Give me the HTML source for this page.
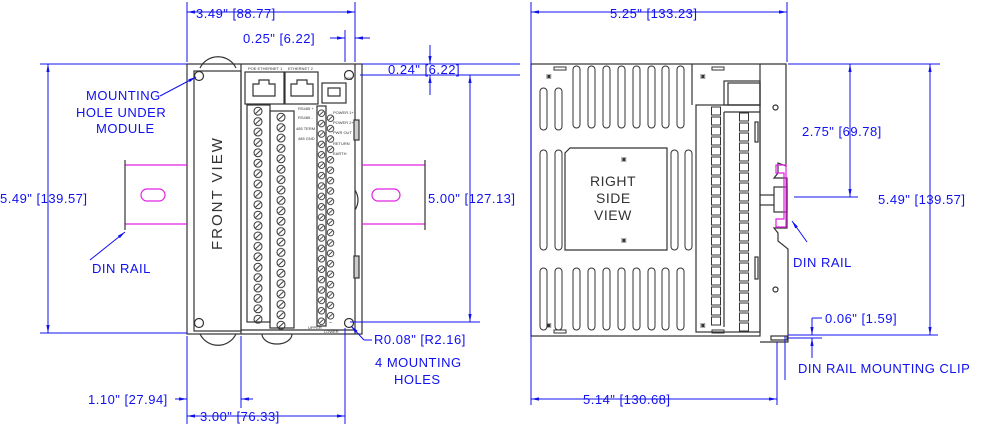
<!DOCTYPE html>
<html><head><style>
html,body{margin:0;padding:0;background:#fff;}
svg{display:block;}
text{font-family:"Liberation Sans",sans-serif;fill:#1010f0;font-size:13px;letter-spacing:0.5px;}
text.s{fill:#333;font-size:4px;letter-spacing:0;}
text.g{fill:#333;font-size:14px;}
text.m{fill:#333;font-size:6px;}
</style></head><body>
<svg width="1000" height="428" viewBox="0 0 1000 428" xmlns="http://www.w3.org/2000/svg">
<defs>
<marker id="a" viewBox="0 0 10 10" refX="10" refY="5" markerWidth="8" markerHeight="8" orient="auto-start-reverse"><path d="M0,3 L10,5 L0,7z" fill="#1010f0"/></marker>
<pattern id="scr1" x="252" y="106" width="12" height="10.4" patternUnits="userSpaceOnUse"><circle cx="6" cy="5.2" r="4" fill="none" stroke="#333" stroke-width="1"/><line x1="3.5" y1="7.5" x2="8.5" y2="3" stroke="#333" stroke-width="1"/></pattern>
<pattern id="scr2" x="275" y="112" width="12" height="10.4" patternUnits="userSpaceOnUse"><circle cx="6" cy="5.2" r="4" fill="none" stroke="#333" stroke-width="1"/><line x1="3.5" y1="7.5" x2="8.5" y2="3" stroke="#333" stroke-width="1"/></pattern>
<pattern id="scs1" x="317" y="108" width="9" height="10.4" patternUnits="userSpaceOnUse"><circle cx="4.5" cy="5.2" r="3.3" fill="none" stroke="#333" stroke-width="0.9"/><line x1="2.5" y1="7" x2="6.5" y2="3.4" stroke="#333" stroke-width="0.9"/></pattern>
<pattern id="scs2" x="326" y="113" width="9" height="10.4" patternUnits="userSpaceOnUse"><circle cx="4.5" cy="5.2" r="3.3" fill="none" stroke="#333" stroke-width="0.9"/><line x1="2.5" y1="7" x2="6.5" y2="3.4" stroke="#333" stroke-width="0.9"/></pattern>
<pattern id="sq1" x="710" y="106" width="12" height="10" patternUnits="userSpaceOnUse"><rect x="1.5" y="1" width="9" height="8" fill="none" stroke="#333"/></pattern>
<pattern id="sq2" x="738" y="112" width="12" height="10" patternUnits="userSpaceOnUse"><rect x="1.5" y="1" width="9" height="8" fill="none" stroke="#333"/></pattern>
</defs>
<g fill="none" stroke="#333" stroke-width="1.2">
<rect x="187" y="64" width="175" height="270"/>
<rect x="194" y="71" width="47" height="260" fill="#fff"/>
<path d="M200,68 A20,20 0 0 1 236,68"/><path d="M200,334 A20,20 0 0 0 236,334"/>
<path d="M262,334 A15,10 0 0 0 292,334"/>
<circle cx="199" cy="76" r="4.5"/><circle cx="199" cy="323" r="4.5"/><circle cx="349" cy="75" r="4.5"/><circle cx="349" cy="323" r="4.5"/>
<line x1="241" y1="64" x2="241" y2="334"/>
<line x1="355" y1="64" x2="355" y2="334"/>
<rect x="245" y="72" width="39" height="32"/><rect x="285" y="72" width="33" height="32"/>
<path d="M253,96 v-12 h6 v-4 h10 v4 h6 v12z"/><path d="M291,96 v-12 h6 v-4 h10 v4 h6 v12z"/>
<rect x="322" y="83" width="24" height="20"/><rect x="328" y="88" width="12" height="8"/>
<rect x="247" y="105" width="23" height="217"/>
<rect x="270" y="111" width="24" height="217"/>
<rect x="317" y="106" width="9" height="220"/>
<rect x="252" y="106" width="12" height="218" fill="url(#scr1)" stroke="none"/>
<rect x="275" y="112" width="12" height="218" fill="url(#scr2)" stroke="none"/>
<rect x="317" y="108" width="9" height="218" fill="url(#scs1)" stroke="none"/>
<rect x="326" y="113" width="9" height="210" fill="url(#scs2)" stroke="none"/>
<rect x="354" y="120" width="5" height="20" fill="#ccc"/><rect x="354" y="256" width="5" height="22" fill="#ccc"/>
<path d="M355,190 q6,10 0,20"/>
<line x1="241" y1="330" x2="355" y2="330"/>
<g stroke="#e020e0">
<line x1="125" y1="165" x2="187" y2="165"/><line x1="125" y1="224" x2="187" y2="224"/>
<line x1="362" y1="165" x2="425" y2="165"/><line x1="362" y1="224" x2="425" y2="224"/>
<rect x="141" y="189" width="24" height="12" rx="6"/><rect x="372" y="189" width="28" height="12" rx="6"/>
</g>
<line x1="125" y1="160" x2="125" y2="230"/><line x1="425" y1="160" x2="425" y2="230"/>
<rect x="531" y="64" width="229" height="272"/>
<line x1="692" y1="64" x2="692" y2="105"/>
<g stroke-width="1">
<rect x="573" y="66" width="7" height="62" rx="3.5"/><rect x="588" y="66" width="7" height="62" rx="3.5"/><rect x="603" y="66" width="7" height="62" rx="3.5"/><rect x="618" y="66" width="7" height="62" rx="3.5"/><rect x="633" y="66" width="7" height="62" rx="3.5"/><rect x="648" y="66" width="7" height="62" rx="3.5"/><rect x="662" y="66" width="7" height="62" rx="3.5"/><rect x="677" y="66" width="7" height="62" rx="3.5"/>
<rect x="540" y="88" width="7" height="42" rx="3.5"/><rect x="555" y="88" width="7" height="42" rx="3.5"/>
<rect x="540" y="150" width="7" height="100" rx="3.5"/><rect x="555" y="150" width="7" height="100" rx="3.5"/><rect x="671" y="150" width="7" height="100" rx="3.5"/><rect x="685" y="150" width="7" height="100" rx="3.5"/>
<rect x="540" y="268" width="7" height="62" rx="3.5"/><rect x="555" y="268" width="7" height="62" rx="3.5"/>
<rect x="573" y="268" width="7" height="62" rx="3.5"/><rect x="588" y="268" width="7" height="62" rx="3.5"/><rect x="603" y="268" width="7" height="62" rx="3.5"/><rect x="618" y="268" width="7" height="62" rx="3.5"/><rect x="633" y="268" width="7" height="62" rx="3.5"/><rect x="648" y="268" width="7" height="62" rx="3.5"/><rect x="662" y="268" width="7" height="62" rx="3.5"/><rect x="677" y="268" width="7" height="62" rx="3.5"/>
<rect x="554" y="67" width="12" height="3"/><rect x="712" y="67" width="12" height="3"/><rect x="554" y="330" width="12" height="3"/><rect x="712" y="330" width="12" height="3"/>
</g>
<path d="M570,148 h97 v102 h-102 v-97z"/>
<rect x="696" y="105" width="64" height="227"/>
<rect x="724" y="81" width="36" height="24"/><rect x="728" y="83" width="32" height="22"/>
<line x1="724" y1="112" x2="760" y2="112"/><line x1="724" y1="112" x2="724" y2="327"/>
<rect x="710" y="106" width="12" height="220" fill="url(#sq1)" stroke="none"/>
<rect x="738" y="112" width="12" height="220" fill="url(#sq2)" stroke="none"/>
<rect x="755" y="122" width="3" height="20"/><rect x="755" y="257" width="3" height="22"/>
<path d="M760,64 h26 v102 l-8,-3 v10 l-4,5 h13 v50 h-13 l4,5 v8 l10,8 v93 h-28"/>
<rect x="774" y="187" width="13" height="25"/><line x1="760" y1="195" x2="774" y2="195"/><line x1="760" y1="205" x2="774" y2="205"/>
<rect x="773" y="105" width="5" height="5" rx="2.5"/><rect x="773" y="287" width="5" height="5" rx="2.5"/>
<rect x="771" y="336" width="16" height="4"/>
<path d="M776,165 h10 v62 h-10 v-8 h8 v-46 h-8z" stroke="#e020e0"/>
</g>
<text class="m" x="546" y="78">▣</text><text class="m" x="700" y="78">▣</text>
<text class="m" x="546" y="327">▣</text><text class="m" x="700" y="327">▣</text>
<text class="m" x="621" y="161">▣</text><text class="m" x="621" y="242">▣</text>
<text class="g" x="590" y="186">RIGHT</text>
<text class="g" x="596" y="203">SIDE</text>
<text class="g" x="594" y="220">VIEW</text>
<text transform="translate(222,250) rotate(-90)" style="fill:#333;font-size:15px;letter-spacing:2px">FRONT VIEW</text>
<text class="s" x="248" y="70">POE ETHERNET 1</text><text class="s" x="288" y="70">ETHERNET 2</text><text class="s" x="344" y="80">USB</text>
<text class="s" x="298" y="110">RS485 +</text><text class="s" x="298" y="119">RS485 -</text><text class="s" x="296" y="130">485 TERM</text><text class="s" x="298" y="140">485 GND</text>
<text class="s" x="333" y="114">POWER 1+</text><text class="s" x="333" y="124">POWER 2+</text><text class="s" x="333" y="134">PWR OUT</text><text class="s" x="333" y="145">RETURN</text><text class="s" x="333" y="155">EARTH</text>
<text class="s" x="308" y="329">UPPER</text><text class="s" x="324" y="333">LOWER</text>
<g stroke="#1010f0" stroke-width="1" fill="none">
<line x1="187" y1="2" x2="187" y2="62"/><line x1="355" y1="2" x2="355" y2="62"/>
<line x1="187" y1="12" x2="355" y2="12" marker-start="url(#a)" marker-end="url(#a)"/>
<line x1="345" y1="30" x2="345" y2="62"/><line x1="330" y1="38" x2="345" y2="38" marker-end="url(#a)"/><line x1="370" y1="38" x2="355" y2="38" marker-end="url(#a)"/>
<line x1="362" y1="64" x2="520" y2="64"/><line x1="360" y1="75" x2="520" y2="75"/>
<line x1="430" y1="45" x2="430" y2="64" marker-end="url(#a)"/><line x1="430" y1="95" x2="430" y2="75" marker-end="url(#a)"/>
<line x1="40" y1="64" x2="187" y2="64"/><line x1="40" y1="333" x2="187" y2="333"/>
<line x1="48" y1="64" x2="48" y2="333" marker-start="url(#a)" marker-end="url(#a)"/>
<line x1="350" y1="322" x2="480" y2="322"/>
<line x1="470" y1="75" x2="470" y2="322" marker-start="url(#a)" marker-end="url(#a)"/>
<line x1="187" y1="336" x2="187" y2="424"/><line x1="241" y1="336" x2="241" y2="408"/><line x1="345" y1="328" x2="345" y2="424"/>
<line x1="175" y1="399" x2="187" y2="399" marker-end="url(#a)"/><line x1="253" y1="399" x2="241" y2="399" marker-end="url(#a)"/>
<line x1="187" y1="416" x2="345" y2="416" marker-start="url(#a)" marker-end="url(#a)"/>
<line x1="160" y1="96" x2="196" y2="77" marker-end="url(#a)"/>
<line x1="90" y1="260" x2="125" y2="232" marker-end="url(#a)"/>
<line x1="372" y1="340" x2="364" y2="340"/><line x1="364" y1="340" x2="351" y2="326" marker-end="url(#a)"/>
<line x1="531" y1="2" x2="531" y2="405"/><line x1="787" y1="2" x2="787" y2="62"/>
<line x1="531" y1="12" x2="787" y2="12" marker-start="url(#a)" marker-end="url(#a)"/>
<line x1="788" y1="64" x2="940" y2="64"/>
<line x1="850" y1="64" x2="850" y2="197" marker-start="url(#a)" marker-end="url(#a)"/>
<line x1="794" y1="197" x2="858" y2="197"/>
<line x1="930" y1="64" x2="930" y2="335" marker-start="url(#a)" marker-end="url(#a)"/>
<line x1="788" y1="335" x2="938" y2="335"/><line x1="788" y1="338" x2="822" y2="338"/>
<line x1="812" y1="318" x2="812" y2="335" marker-end="url(#a)"/><line x1="812" y1="318" x2="822" y2="318"/>
<line x1="812" y1="358" x2="812" y2="338" marker-end="url(#a)"/>
<line x1="785" y1="336" x2="785" y2="380"/><line x1="777" y1="342" x2="777" y2="405"/>
<line x1="531" y1="399" x2="777" y2="399" marker-start="url(#a)" marker-end="url(#a)"/>
<line x1="807" y1="242" x2="792" y2="221" marker-end="url(#a)"/>
</g>
<text x="196" y="18">3.49" [88.77]</text>
<text x="243" y="43">0.25" [6.22]</text>
<text x="388" y="74">0.24" [6.22]</text>
<text x="86" y="100">MOUNTING</text><text x="76" y="117">HOLE UNDER</text><text x="96" y="133">MODULE</text>
<text x="0" y="203">5.49" [139.57]</text>
<text x="428" y="203">5.00" [127.13]</text>
<text x="92" y="273">DIN RAIL</text>
<text x="374" y="344">R0.08" [R2.16]</text>
<text x="375" y="367">4 MOUNTING</text><text x="394" y="384">HOLES</text>
<text x="88" y="404">1.10" [27.94]</text>
<text x="200" y="421">3.00" [76.33]</text>
<text x="610" y="18">5.25" [133.23]</text>
<text x="802" y="136">2.75" [69.78]</text>
<text x="878" y="204">5.49" [139.57]</text>
<text x="793" y="267">DIN RAIL</text>
<text x="825" y="323">0.06" [1.59]</text>
<text x="798" y="373">DIN RAIL MOUNTING CLIP</text>
<text x="583" y="404">5.14" [130.68]</text>
</svg>
</body></html>
